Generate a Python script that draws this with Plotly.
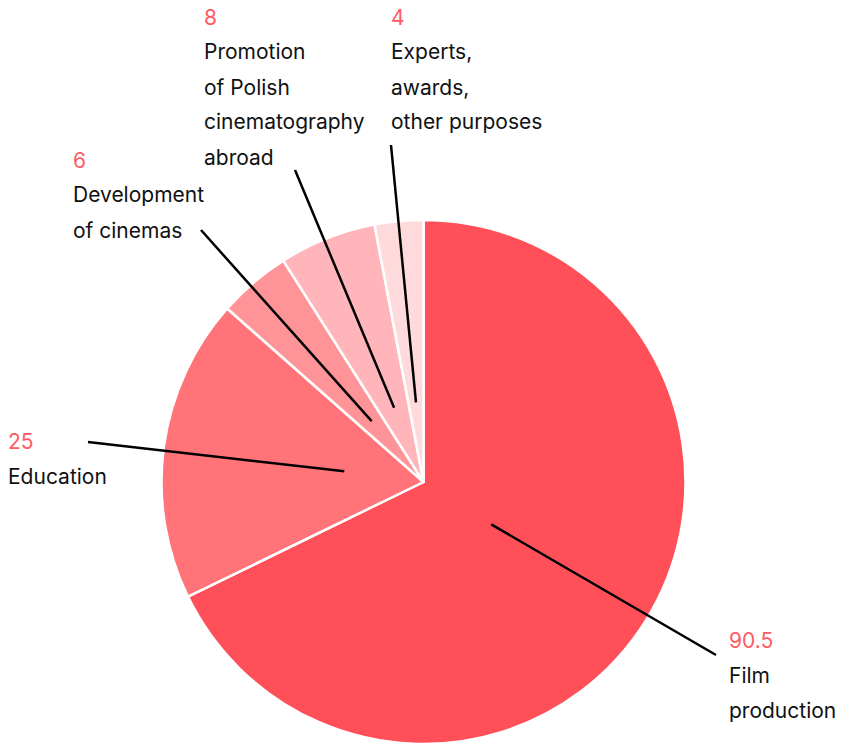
import math
import plotly.graph_objects as go

# ---- data ----
categories = ["Film production", "Education", "Development of cinemas",
              "Promotion of Polish cinematography abroad", "Experts, awards, other purposes"]
values = [90.5, 25, 6, 8, 4]
value_labels = ["90.5", "25", "6", "8", "4"]
label_lines = [
    ["Film", "production"],
    ["Education"],
    ["Development", "of cinemas"],
    ["Promotion", "of Polish", "cinematography", "abroad"],
    ["Experts,", "awards,", "other purposes"],
]
colors = ["#FF505A", "#FF7379", "#FF9498", "#FFB5B9", "#FFDADD"]

# ---- layout (pixels) ----
W, H = 842, 745
pie_left, pie_right, pie_top, pie_bottom = 161.5, 685.5, 220, 744
cx = (pie_left + pie_right) / 2
cy = (pie_top + pie_bottom) / 2
R = (pie_right - pie_left) / 2
inner_frac = 0.305
# label block anchors: (x left, y of first line), leader line outer end
label_pos = [(727, 640), (6, 441), (71, 160), (202, 17), (389, 17)]
leader_end = [(716, 655), (88, 442), (201, 230), (295, 170), (391, 145)]
line_h = 35
font_family = "Inter, Roboto, sans-serif"
red_text = "#FF5A64"

fig = go.Figure(go.Pie(
    labels=categories, values=values, sort=False, direction="clockwise", rotation=0,
    marker=dict(colors=colors, line=dict(color="white", width=2.5)),
    textinfo="none", hoverinfo="label+value", showlegend=False,
    domain=dict(x=[pie_left / W, pie_right / W], y=[1 - pie_bottom / H, 1 - pie_top / H]),
))

def px2paper(x, y):
    return x / W, 1 - y / H

total = sum(values)
cum = 0
shapes = []
annotations = []
for i, v in enumerate(values):
    mid = (cum + v / 2) / total * 2 * math.pi
    cum += v
    sx = cx + inner_frac * R * math.sin(mid)
    sy = cy - inner_frac * R * math.cos(mid)
    x0, y0 = px2paper(sx, sy)
    x1, y1 = px2paper(*leader_end[i])
    shapes.append(dict(type="line", xref="paper", yref="paper", x0=x0, y0=y0, x1=x1, y1=y1,
                       line=dict(color="black", width=2.5)))
    lx, ly = label_pos[i]
    lines = [(value_labels[i], red_text)] + [(t, "#111111") for t in label_lines[i]]
    for k, (txt, col) in enumerate(lines):
        ax, ay = px2paper(lx, ly + k * line_h)
        annotations.append(dict(text=txt, x=ax, y=ay, xref="paper", yref="paper",
                                xanchor="left", yanchor="middle", showarrow=False,
                                font=dict(size=21, color=col, family=font_family)))

fig.update_layout(
    width=W, height=H, margin=dict(l=0, r=0, t=0, b=0),
    paper_bgcolor="white", plot_bgcolor="white",
    shapes=shapes, annotations=annotations,
)
fig.write_html("out.html", config={"displayModeBar": False},
               post_script="document.body.style.margin='0';")
